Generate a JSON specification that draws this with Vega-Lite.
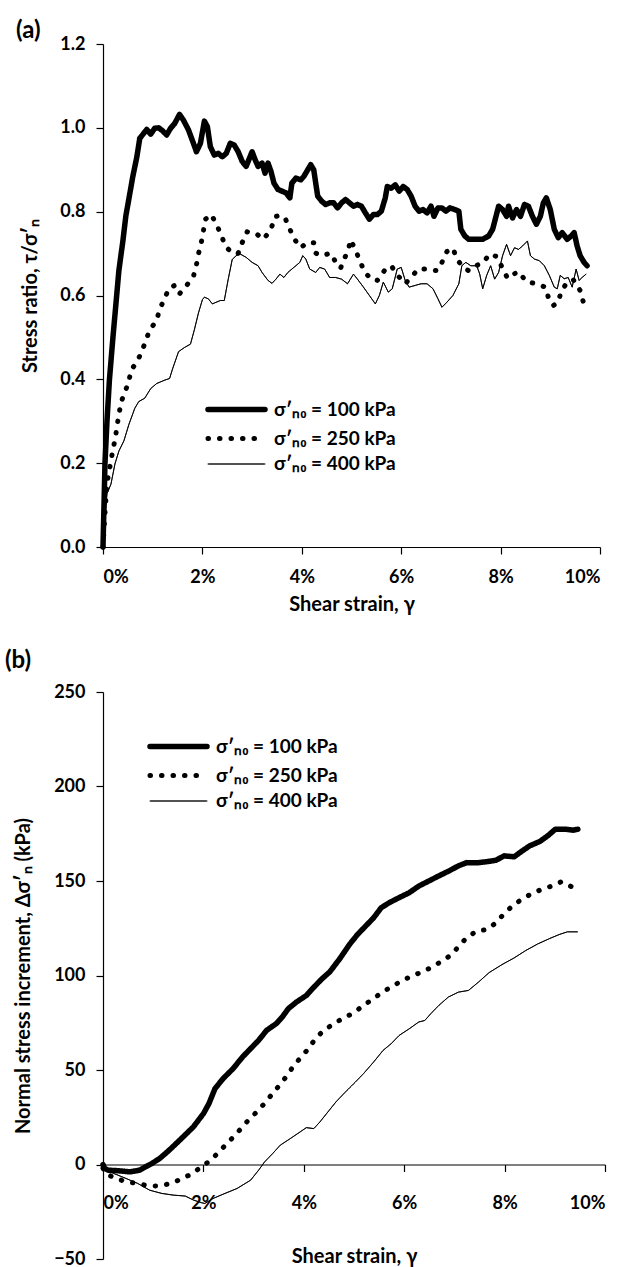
{
"$schema": "https://vega.github.io/schema/vega-lite/v6.json",
"padding": {"left": 5, "top": 19, "right": 5, "bottom": 0},
"spacing": 35,
"config": {
 "font": "Lato",
 "view": {"stroke": null},
 "axis": {"labelFont": "Lato", "labelFontWeight": "bold", "labelFontSize": 18, "labelColor": "black", "titleFont": "Lato", "titleFontWeight": "bold", "titleFontSize": 20, "titleColor": "black", "domainColor": "black", "tickColor": "black", "tickSize": 7, "grid": false, "domainWidth": 1.2, "tickWidth": 1.2},
 "legend": {"orient": "none", "title": null, "symbolType": "M-3,0H3", "symbolSize": 361, "symbolStrokeColor": "black", "labelFont": "Lato", "labelFontSize": 19, "labelFontWeight": "bold", "labelColor": "black", "labelOffset": 25, "labelLimit": 300, "rowPadding": 5.5},
 "title": {"font": "Lato", "fontWeight": "bold", "fontSize": 24, "color": "black", "anchor": "start", "frame": "group"}
},
"datasets": {
"a": [
{"series":"100","strain":0,"value":0},{"series":"100","strain":0.02,"value":0.1},{"series":"100","strain":0.04,"value":0.2},{"series":"100","strain":0.08,"value":0.3},{"series":"100","strain":0.13,"value":0.4},{"series":"100","strain":0.2,"value":0.5},{"series":"100","strain":0.26,"value":0.58},{"series":"100","strain":0.32,"value":0.66},{"series":"100","strain":0.4,"value":0.73},{"series":"100","strain":0.46,"value":0.79},{"series":"100","strain":0.52,"value":0.83},{"series":"100","strain":0.6,"value":0.884},{"series":"100","strain":0.68,"value":0.93},{"series":"100","strain":0.74,"value":0.975},{"series":"100","strain":0.84,"value":0.99},{"series":"100","strain":0.88,"value":0.996},{"series":"100","strain":0.96,"value":0.985},{"series":"100","strain":1.04,"value":0.999},{"series":"100","strain":1.12,"value":1.0},{"series":"100","strain":1.2,"value":0.993},{"series":"100","strain":1.28,"value":0.983},{"series":"100","strain":1.36,"value":0.999},{"series":"100","strain":1.44,"value":1.01},{"series":"100","strain":1.54,"value":1.032},{"series":"100","strain":1.62,"value":1.018},{"series":"100","strain":1.72,"value":0.995},{"series":"100","strain":1.82,"value":0.963},{"series":"100","strain":1.88,"value":0.943},{"series":"100","strain":1.96,"value":0.963},{"series":"100","strain":2.04,"value":1.016},{"series":"100","strain":2.1,"value":1.003},{"series":"100","strain":2.16,"value":0.955},{"series":"100","strain":2.24,"value":0.935},{"series":"100","strain":2.32,"value":0.939},{"series":"100","strain":2.4,"value":0.931},{"series":"100","strain":2.48,"value":0.939},{"series":"100","strain":2.56,"value":0.963},{"series":"100","strain":2.64,"value":0.959},{"series":"100","strain":2.72,"value":0.943},{"series":"100","strain":2.8,"value":0.92},{"series":"100","strain":2.88,"value":0.908},{"series":"100","strain":3.0,"value":0.943},{"series":"100","strain":3.06,"value":0.924},{"series":"100","strain":3.12,"value":0.908},{"series":"100","strain":3.2,"value":0.916},{"series":"100","strain":3.26,"value":0.892},{"series":"100","strain":3.32,"value":0.916},{"series":"100","strain":3.38,"value":0.896},{"series":"100","strain":3.44,"value":0.868},{"series":"100","strain":3.52,"value":0.853},{"series":"100","strain":3.6,"value":0.849},{"series":"100","strain":3.68,"value":0.845},{"series":"100","strain":3.76,"value":0.833},{"series":"100","strain":3.8,"value":0.868},{"series":"100","strain":3.88,"value":0.88},{"series":"100","strain":3.98,"value":0.876},{"series":"100","strain":4.04,"value":0.884},{"series":"100","strain":4.12,"value":0.9},{"series":"100","strain":4.18,"value":0.912},{"series":"100","strain":4.24,"value":0.9},{"series":"100","strain":4.32,"value":0.837},{"series":"100","strain":4.4,"value":0.825},{"series":"100","strain":4.48,"value":0.817},{"series":"100","strain":4.56,"value":0.821},{"series":"100","strain":4.64,"value":0.821},{"series":"100","strain":4.72,"value":0.809},{"series":"100","strain":4.8,"value":0.821},{"series":"100","strain":4.88,"value":0.829},{"series":"100","strain":4.96,"value":0.821},{"series":"100","strain":5.04,"value":0.813},{"series":"100","strain":5.12,"value":0.817},{"series":"100","strain":5.2,"value":0.813},{"series":"100","strain":5.28,"value":0.797},{"series":"100","strain":5.36,"value":0.782},{"series":"100","strain":5.44,"value":0.793},{"series":"100","strain":5.52,"value":0.793},{"series":"100","strain":5.6,"value":0.801},{"series":"100","strain":5.68,"value":0.833},{"series":"100","strain":5.72,"value":0.86},{"series":"100","strain":5.8,"value":0.856},{"series":"100","strain":5.88,"value":0.864},{"series":"100","strain":5.96,"value":0.849},{"series":"100","strain":6.04,"value":0.86},{"series":"100","strain":6.12,"value":0.853},{"series":"100","strain":6.2,"value":0.837},{"series":"100","strain":6.28,"value":0.813},{"series":"100","strain":6.36,"value":0.801},{"series":"100","strain":6.44,"value":0.805},{"series":"100","strain":6.52,"value":0.797},{"series":"100","strain":6.6,"value":0.813},{"series":"100","strain":6.66,"value":0.789},{"series":"100","strain":6.74,"value":0.809},{"series":"100","strain":6.82,"value":0.809},{"series":"100","strain":6.9,"value":0.801},{"series":"100","strain":6.98,"value":0.809},{"series":"100","strain":7.08,"value":0.805},{"series":"100","strain":7.16,"value":0.801},{"series":"100","strain":7.2,"value":0.758},{"series":"100","strain":7.28,"value":0.742},{"series":"100","strain":7.36,"value":0.734},{"series":"100","strain":7.44,"value":0.734},{"series":"100","strain":7.56,"value":0.734},{"series":"100","strain":7.64,"value":0.734},{"series":"100","strain":7.76,"value":0.742},{"series":"100","strain":7.84,"value":0.758},{"series":"100","strain":7.96,"value":0.813},{"series":"100","strain":8.04,"value":0.805},{"series":"100","strain":8.12,"value":0.789},{"series":"100","strain":8.16,"value":0.813},{"series":"100","strain":8.24,"value":0.785},{"series":"100","strain":8.32,"value":0.805},{"series":"100","strain":8.4,"value":0.789},{"series":"100","strain":8.48,"value":0.817},{"series":"100","strain":8.56,"value":0.813},{"series":"100","strain":8.64,"value":0.789},{"series":"100","strain":8.72,"value":0.77},{"series":"100","strain":8.8,"value":0.789},{"series":"100","strain":8.86,"value":0.821},{"series":"100","strain":8.92,"value":0.833},{"series":"100","strain":9.0,"value":0.805},{"series":"100","strain":9.08,"value":0.758},{"series":"100","strain":9.16,"value":0.738},{"series":"100","strain":9.24,"value":0.75},{"series":"100","strain":9.34,"value":0.734},{"series":"100","strain":9.42,"value":0.742},{"series":"100","strain":9.48,"value":0.75},{"series":"100","strain":9.54,"value":0.718},{"series":"100","strain":9.6,"value":0.695},{"series":"100","strain":9.68,"value":0.679},{"series":"100","strain":9.74,"value":0.671},
{"series":"250","strain":0,"value":0},{"series":"250","strain":0.04,"value":0.08},{"series":"250","strain":0.08,"value":0.152},{"series":"250","strain":0.12,"value":0.178},{"series":"250","strain":0.16,"value":0.205},{"series":"250","strain":0.2,"value":0.233},{"series":"250","strain":0.25,"value":0.26},{"series":"250","strain":0.28,"value":0.288},{"series":"250","strain":0.32,"value":0.315},{"series":"250","strain":0.36,"value":0.344},{"series":"250","strain":0.44,"value":0.37},{"series":"250","strain":0.52,"value":0.394},{"series":"250","strain":0.56,"value":0.421},{"series":"250","strain":0.68,"value":0.441},{"series":"250","strain":0.78,"value":0.466},{"series":"250","strain":0.86,"value":0.492},{"series":"250","strain":0.94,"value":0.518},{"series":"250","strain":1.08,"value":0.54},{"series":"250","strain":1.14,"value":0.568},{"series":"250","strain":1.24,"value":0.592},{"series":"250","strain":1.32,"value":0.616},{"series":"250","strain":1.44,"value":0.624},{"series":"250","strain":1.54,"value":0.604},{"series":"250","strain":1.69,"value":0.625},{"series":"250","strain":1.82,"value":0.646},{"series":"250","strain":1.88,"value":0.673},{"series":"250","strain":1.92,"value":0.699},{"series":"250","strain":1.98,"value":0.728},{"series":"250","strain":2.02,"value":0.754},{"series":"250","strain":2.06,"value":0.782},{"series":"250","strain":2.18,"value":0.793},{"series":"250","strain":2.28,"value":0.77},{"series":"250","strain":2.38,"value":0.744},{"series":"250","strain":2.46,"value":0.718},{"series":"250","strain":2.6,"value":0.701},{"series":"250","strain":2.72,"value":0.701},{"series":"250","strain":2.8,"value":0.726},{"series":"250","strain":2.9,"value":0.752},{"series":"250","strain":3.08,"value":0.748},{"series":"250","strain":3.22,"value":0.734},{"series":"250","strain":3.28,"value":0.742},{"series":"250","strain":3.38,"value":0.758},{"series":"250","strain":3.46,"value":0.788},{"series":"250","strain":3.56,"value":0.791},{"series":"250","strain":3.66,"value":0.786},{"series":"250","strain":3.76,"value":0.758},{"series":"250","strain":3.86,"value":0.733},{"series":"250","strain":3.98,"value":0.714},{"series":"250","strain":4.1,"value":0.726},{"series":"250","strain":4.24,"value":0.726},{"series":"250","strain":4.28,"value":0.701},{"series":"250","strain":4.38,"value":0.695},{"series":"250","strain":4.46,"value":0.697},{"series":"250","strain":4.58,"value":0.701},{"series":"250","strain":4.68,"value":0.68},{"series":"250","strain":4.78,"value":0.665},{"series":"250","strain":4.84,"value":0.683},{"series":"250","strain":4.94,"value":0.711},{"series":"250","strain":4.98,"value":0.733},{"series":"250","strain":5.08,"value":0.709},{"series":"250","strain":5.16,"value":0.685},{"series":"250","strain":5.26,"value":0.657},{"series":"250","strain":5.4,"value":0.638},{"series":"250","strain":5.52,"value":0.636},{"series":"250","strain":5.66,"value":0.659},{"series":"250","strain":5.8,"value":0.671},{"series":"250","strain":5.92,"value":0.649},{"series":"250","strain":6.08,"value":0.628},{"series":"250","strain":6.2,"value":0.643},{"series":"250","strain":6.34,"value":0.663},{"series":"250","strain":6.52,"value":0.663},{"series":"250","strain":6.72,"value":0.659},{"series":"250","strain":6.82,"value":0.679},{"series":"250","strain":6.92,"value":0.705},{"series":"250","strain":7.04,"value":0.713},{"series":"250","strain":7.12,"value":0.687},{"series":"250","strain":7.24,"value":0.668},{"series":"250","strain":7.36,"value":0.659},{"series":"250","strain":7.46,"value":0.668},{"series":"250","strain":7.66,"value":0.68},{"series":"250","strain":7.78,"value":0.699},{"series":"250","strain":7.92,"value":0.693},{"series":"250","strain":8.04,"value":0.665},{"series":"250","strain":8.14,"value":0.641},{"series":"250","strain":8.28,"value":0.652},{"series":"250","strain":8.36,"value":0.657},{"series":"250","strain":8.52,"value":0.633},{"series":"250","strain":8.64,"value":0.63},{"series":"250","strain":8.78,"value":0.625},{"series":"250","strain":8.9,"value":0.62},{"series":"250","strain":8.96,"value":0.596},{"series":"250","strain":9.06,"value":0.576},{"series":"250","strain":9.16,"value":0.584},{"series":"250","strain":9.22,"value":0.61},{"series":"250","strain":9.32,"value":0.628},{"series":"250","strain":9.46,"value":0.638},{"series":"250","strain":9.6,"value":0.612},{"series":"250","strain":9.66,"value":0.586},
{"series":"400","strain":0,"value":0},{"series":"400","strain":0.02,"value":0.04},{"series":"400","strain":0.04,"value":0.072},{"series":"400","strain":0.08,"value":0.127},{"series":"400","strain":0.16,"value":0.15},{"series":"400","strain":0.24,"value":0.198},{"series":"400","strain":0.32,"value":0.229},{"series":"400","strain":0.42,"value":0.253},{"series":"400","strain":0.52,"value":0.292},{"series":"400","strain":0.64,"value":0.331},{"series":"400","strain":0.72,"value":0.347},{"series":"400","strain":0.84,"value":0.355},{"series":"400","strain":0.96,"value":0.378},{"series":"400","strain":1.08,"value":0.39},{"series":"400","strain":1.24,"value":0.398},{"series":"400","strain":1.34,"value":0.402},{"series":"400","strain":1.4,"value":0.425},{"series":"400","strain":1.52,"value":0.466},{"series":"400","strain":1.64,"value":0.476},{"series":"400","strain":1.76,"value":0.484},{"series":"400","strain":1.84,"value":0.519},{"series":"400","strain":1.92,"value":0.558},{"series":"400","strain":2.0,"value":0.59},{"series":"400","strain":2.04,"value":0.596},{"series":"400","strain":2.12,"value":0.592},{"series":"400","strain":2.2,"value":0.58},{"series":"400","strain":2.28,"value":0.584},{"series":"400","strain":2.36,"value":0.588},{"series":"400","strain":2.44,"value":0.588},{"series":"400","strain":2.52,"value":0.639},{"series":"400","strain":2.6,"value":0.686},{"series":"400","strain":2.68,"value":0.695},{"series":"400","strain":2.76,"value":0.699},{"series":"400","strain":2.88,"value":0.691},{"series":"400","strain":3.0,"value":0.679},{"series":"400","strain":3.12,"value":0.671},{"series":"400","strain":3.2,"value":0.655},{"series":"400","strain":3.32,"value":0.636},{"series":"400","strain":3.4,"value":0.629},{"series":"400","strain":3.48,"value":0.639},{"series":"400","strain":3.56,"value":0.651},{"series":"400","strain":3.64,"value":0.643},{"series":"400","strain":3.72,"value":0.655},{"series":"400","strain":3.84,"value":0.667},{"series":"400","strain":3.96,"value":0.679},{"series":"400","strain":4.02,"value":0.695},{"series":"400","strain":4.08,"value":0.687},{"series":"400","strain":4.16,"value":0.663},{"series":"400","strain":4.28,"value":0.655},{"series":"400","strain":4.36,"value":0.667},{"series":"400","strain":4.46,"value":0.663},{"series":"400","strain":4.56,"value":0.643},{"series":"400","strain":4.68,"value":0.643},{"series":"400","strain":4.8,"value":0.639},{"series":"400","strain":4.92,"value":0.628},{"series":"400","strain":5.04,"value":0.651},{"series":"400","strain":5.12,"value":0.639},{"series":"400","strain":5.24,"value":0.62},{"series":"400","strain":5.36,"value":0.6},{"series":"400","strain":5.48,"value":0.58},{"series":"400","strain":5.56,"value":0.6},{"series":"400","strain":5.64,"value":0.632},{"series":"400","strain":5.74,"value":0.608},{"series":"400","strain":5.82,"value":0.616},{"series":"400","strain":5.92,"value":0.663},{"series":"400","strain":6.0,"value":0.667},{"series":"400","strain":6.08,"value":0.636},{"series":"400","strain":6.16,"value":0.62},{"series":"400","strain":6.28,"value":0.624},{"series":"400","strain":6.4,"value":0.628},{"series":"400","strain":6.52,"value":0.628},{"series":"400","strain":6.64,"value":0.616},{"series":"400","strain":6.74,"value":0.592},{"series":"400","strain":6.82,"value":0.572},{"series":"400","strain":6.92,"value":0.584},{"series":"400","strain":7.04,"value":0.6},{"series":"400","strain":7.16,"value":0.628},{"series":"400","strain":7.22,"value":0.671},{"series":"400","strain":7.3,"value":0.679},{"series":"400","strain":7.4,"value":0.671},{"series":"400","strain":7.52,"value":0.671},{"series":"400","strain":7.58,"value":0.651},{"series":"400","strain":7.64,"value":0.616},{"series":"400","strain":7.72,"value":0.648},{"series":"400","strain":7.8,"value":0.671},{"series":"400","strain":7.88,"value":0.639},{"series":"400","strain":7.96,"value":0.655},{"series":"400","strain":8.04,"value":0.695},{"series":"400","strain":8.12,"value":0.722},{"series":"400","strain":8.2,"value":0.695},{"series":"400","strain":8.28,"value":0.714},{"series":"400","strain":8.36,"value":0.71},{"series":"400","strain":8.44,"value":0.718},{"series":"400","strain":8.54,"value":0.73},{"series":"400","strain":8.6,"value":0.695},{"series":"400","strain":8.68,"value":0.687},{"series":"400","strain":8.78,"value":0.683},{"series":"400","strain":8.88,"value":0.671},{"series":"400","strain":8.98,"value":0.648},{"series":"400","strain":9.08,"value":0.62},{"series":"400","strain":9.14,"value":0.616},{"series":"400","strain":9.2,"value":0.648},{"series":"400","strain":9.28,"value":0.64},{"series":"400","strain":9.36,"value":0.643},{"series":"400","strain":9.44,"value":0.62},{"series":"400","strain":9.52,"value":0.663},{"series":"400","strain":9.58,"value":0.636},{"series":"400","strain":9.64,"value":0.643},{"series":"400","strain":9.72,"value":0.651}
],
"b": [
{"series":"100","strain":0,"value":0},{"series":"100","strain":0.03,"value":-2},{"series":"100","strain":0.1,"value":-3},{"series":"100","strain":0.3,"value":-3.3},{"series":"100","strain":0.54,"value":-3.9},{"series":"100","strain":0.73,"value":-3},{"series":"100","strain":0.85,"value":-1.2},{"series":"100","strain":0.97,"value":0.5},{"series":"100","strain":1.13,"value":3.2},{"series":"100","strain":1.32,"value":7.6},{"series":"100","strain":1.56,"value":13.7},{"series":"100","strain":1.8,"value":19.9},{"series":"100","strain":2.0,"value":26.9},{"series":"100","strain":2.11,"value":32.2},{"series":"100","strain":2.23,"value":40.1},{"series":"100","strain":2.39,"value":45.4},{"series":"100","strain":2.59,"value":50.7},{"series":"100","strain":2.78,"value":56.9},{"series":"100","strain":2.94,"value":61.3},{"series":"100","strain":3.1,"value":65.7},{"series":"100","strain":3.26,"value":71},{"series":"100","strain":3.45,"value":74.5},{"series":"100","strain":3.57,"value":78},{"series":"100","strain":3.69,"value":82.4},{"series":"100","strain":3.85,"value":85.9},{"series":"100","strain":4.05,"value":89.4},{"series":"100","strain":4.2,"value":93.8},{"series":"100","strain":4.36,"value":98.2},{"series":"100","strain":4.52,"value":102},{"series":"100","strain":4.72,"value":109},{"series":"100","strain":4.91,"value":116.4},{"series":"100","strain":5.07,"value":121.7},{"series":"100","strain":5.23,"value":126.1},{"series":"100","strain":5.39,"value":130.5},{"series":"100","strain":5.54,"value":135.8},{"series":"100","strain":5.7,"value":138.5},{"series":"100","strain":5.9,"value":141.2},{"series":"100","strain":6.1,"value":143.8},{"series":"100","strain":6.29,"value":147.3},{"series":"100","strain":6.49,"value":150},{"series":"100","strain":6.69,"value":152.7},{"series":"100","strain":6.89,"value":155.3},{"series":"100","strain":7.08,"value":158},{"series":"100","strain":7.24,"value":159.7},{"series":"100","strain":7.48,"value":159.7},{"series":"100","strain":7.67,"value":160.3},{"series":"100","strain":7.83,"value":161},{"series":"100","strain":7.99,"value":163.3},{"series":"100","strain":8.19,"value":162.8},{"series":"100","strain":8.35,"value":165.9},{"series":"100","strain":8.5,"value":168.6},{"series":"100","strain":8.7,"value":170.9},{"series":"100","strain":8.86,"value":173.9},{"series":"100","strain":9.01,"value":177.4},{"series":"100","strain":9.21,"value":177.4},{"series":"100","strain":9.37,"value":176.9},{"series":"100","strain":9.46,"value":177.4},
{"series":"250","strain":0,"value":-2},{"series":"250","strain":0.05,"value":-4.8},{"series":"250","strain":0.26,"value":-7.4},{"series":"250","strain":0.47,"value":-9.2},{"series":"250","strain":0.69,"value":-10},{"series":"250","strain":0.91,"value":-11.4},{"series":"250","strain":1.13,"value":-11.3},{"series":"250","strain":1.36,"value":-10},{"series":"250","strain":1.58,"value":-7.4},{"series":"250","strain":1.78,"value":-4.8},{"series":"250","strain":1.96,"value":-1.2},{"series":"250","strain":2.15,"value":2.3},{"series":"250","strain":2.31,"value":6.7},{"series":"250","strain":2.47,"value":11.1},{"series":"250","strain":2.63,"value":15.5},{"series":"250","strain":2.78,"value":19.9},{"series":"250","strain":2.94,"value":24.8},{"series":"250","strain":3.1,"value":28.7},{"series":"250","strain":3.24,"value":33.1},{"series":"250","strain":3.39,"value":37.9},{"series":"250","strain":3.53,"value":42.4},{"series":"250","strain":3.68,"value":47.5},{"series":"250","strain":3.81,"value":52.8},{"series":"250","strain":3.97,"value":57.4},{"series":"250","strain":4.1,"value":61.6},{"series":"250","strain":4.24,"value":66.9},{"series":"250","strain":4.4,"value":71},{"series":"250","strain":4.6,"value":74.5},{"series":"250","strain":4.79,"value":77.5},{"series":"250","strain":4.99,"value":80.1},{"series":"250","strain":5.17,"value":83.8},{"series":"250","strain":5.35,"value":87.1},{"series":"250","strain":5.54,"value":90.7},{"series":"250","strain":5.73,"value":93.8},{"series":"250","strain":5.94,"value":97},{"series":"250","strain":6.14,"value":99.6},{"series":"250","strain":6.35,"value":101.8},{"series":"250","strain":6.55,"value":104.4},{"series":"250","strain":6.75,"value":107.6},{"series":"250","strain":6.92,"value":110.6},{"series":"250","strain":7.04,"value":114},{"series":"250","strain":7.24,"value":119.9},{"series":"250","strain":7.44,"value":123.5},{"series":"250","strain":7.65,"value":124.3},{"series":"250","strain":7.83,"value":127.9},{"series":"250","strain":7.99,"value":132.7},{"series":"250","strain":8.15,"value":136.7},{"series":"250","strain":8.34,"value":140.3},{"series":"250","strain":8.54,"value":143.3},{"series":"250","strain":8.74,"value":145.6},{"series":"250","strain":8.94,"value":147.3},{"series":"250","strain":9.13,"value":149.6},{"series":"250","strain":9.35,"value":146.8},
{"series":"400","strain":0,"value":-2},{"series":"400","strain":0.22,"value":-4.8},{"series":"400","strain":0.46,"value":-7.4},{"series":"400","strain":0.69,"value":-10},{"series":"400","strain":0.93,"value":-13.6},{"series":"400","strain":1.17,"value":-15.3},{"series":"400","strain":1.4,"value":-16.2},{"series":"400","strain":1.64,"value":-16.7},{"series":"400","strain":1.8,"value":-18.8},{"series":"400","strain":1.96,"value":-20.2},{"series":"400","strain":2.03,"value":-20.6},{"series":"400","strain":2.19,"value":-18},{"series":"400","strain":2.43,"value":-15.3},{"series":"400","strain":2.67,"value":-12.7},{"series":"400","strain":2.94,"value":-8.3},{"series":"400","strain":3.1,"value":-3},{"series":"400","strain":3.22,"value":1.4},{"series":"400","strain":3.38,"value":5.8},{"series":"400","strain":3.53,"value":10.2},{"series":"400","strain":3.73,"value":13.7},{"series":"400","strain":3.93,"value":17.3},{"series":"400","strain":4.05,"value":19.5},{"series":"400","strain":4.2,"value":19},{"series":"400","strain":4.32,"value":22.5},{"series":"400","strain":4.48,"value":27.8},{"series":"400","strain":4.64,"value":33.1},{"series":"400","strain":4.83,"value":38.4},{"series":"400","strain":5.03,"value":43.7},{"series":"400","strain":5.19,"value":48.1},{"series":"400","strain":5.39,"value":54.2},{"series":"400","strain":5.58,"value":60.4},{"series":"400","strain":5.74,"value":63.9},{"series":"400","strain":5.9,"value":68.3},{"series":"400","strain":6.1,"value":71.8},{"series":"400","strain":6.29,"value":75.4},{"series":"400","strain":6.41,"value":76.2},{"series":"400","strain":6.53,"value":79.8},{"series":"400","strain":6.69,"value":84.2},{"series":"400","strain":6.88,"value":88.6},{"series":"400","strain":7.08,"value":91.2},{"series":"400","strain":7.28,"value":92.1},{"series":"400","strain":7.48,"value":96.5},{"series":"400","strain":7.69,"value":101.5},{"series":"400","strain":7.95,"value":105.8},{"series":"400","strain":8.19,"value":109.3},{"series":"400","strain":8.42,"value":113.2},{"series":"400","strain":8.66,"value":116.7},{"series":"400","strain":8.9,"value":119.6},{"series":"400","strain":9.09,"value":121.7},{"series":"400","strain":9.25,"value":123.1},{"series":"400","strain":9.45,"value":123.1}
]
},
"resolve": {"scale": {"strokeDash": "independent", "strokeWidth": "independent"}},
"vconcat": [
{
 "width": 497, "height": 503,
 "title": {"text": "(a)", "dx": -87, "offset": -8},
 "data": {"name": "a"},
 "mark": {"type": "line", "color": "black", "strokeCap": "round", "strokeJoin": "round"},
 "encoding": {
  "x": {"field": "strain", "type": "quantitative", "scale": {"domain": [0, 10], "nice": false}, "axis": {"values": [0, 2, 4, 6, 8, 10], "labelExpr": "datum.value + '%'", "title": "Shear strain, γ", "labelPadding": 14, "titlePadding": 8}},
  "y": {"field": "value", "type": "quantitative", "scale": {"domain": [0, 1.2], "nice": false}, "axis": {"values": [0, 0.2, 0.4, 0.6, 0.8, 1.0, 1.2], "format": ".1f", "title": "Stress ratio, τ/σ′ₙ", "labelPadding": 11, "titlePadding": 19}},
  "strokeDash": {"field": "series", "type": "nominal", "scale": {"domain": ["100", "250", "400"], "range": [[1, 0], [0.5, 11], [1, 0]]}, "legend": {"legendX": 121, "legendY": 353, "labelExpr": "'σ′ₙ₀ = ' + datum.label + ' kPa'", "encoding": {"symbols": {"strokeCap": {"value": "round"}}}}},
  "strokeWidth": {"field": "series", "type": "nominal", "scale": {"type": "ordinal", "domain": ["100", "250", "400"], "range": [5.5, 5, 1]}, "legend": {"legendX": 121, "legendY": 353, "labelExpr": "'σ′ₙ₀ = ' + datum.label + ' kPa'", "encoding": {"symbols": {"strokeCap": {"value": "round"}}}}}
 }
},
{
 "width": 502, "height": 567,
 "title": {"text": "(b)", "dx": -98, "offset": 10},
 "data": {"name": "b"},
 "mark": {"type": "line", "color": "black", "strokeCap": "round", "strokeJoin": "round"},
 "encoding": {
  "x": {"field": "strain", "type": "quantitative", "scale": {"domain": [0, 10], "nice": false}, "axis": {"values": [0, 2, 4, 6, 8, 10], "labelExpr": "datum.value + '%'", "title": "Shear strain, γ", "offset": -94.5, "labelPadding": 23, "titlePadding": 34}},
  "y": {"field": "value", "type": "quantitative", "scale": {"domain": [-50, 250], "nice": false}, "axis": {"values": [-50, 0, 50, 100, 150, 200, 250], "title": "Normal stress increment, Δσ′ₙ (kPa)", "labelPadding": 11, "titlePadding": 20}},
  "strokeDash": {"field": "series", "type": "nominal", "scale": {"domain": ["100", "250", "400"], "range": [[1, 0], [0.5, 11], [1, 0]]}, "legend": {"legendX": 63, "legendY": 42, "labelExpr": "'σ′ₙ₀ = ' + datum.label + ' kPa'", "encoding": {"symbols": {"strokeCap": {"value": "round"}}}}},
  "strokeWidth": {"field": "series", "type": "nominal", "scale": {"type": "ordinal", "domain": ["100", "250", "400"], "range": [5.5, 5, 1]}, "legend": {"legendX": 63, "legendY": 42, "labelExpr": "'σ′ₙ₀ = ' + datum.label + ' kPa'", "encoding": {"symbols": {"strokeCap": {"value": "round"}}}}}
 }
}
]
}
